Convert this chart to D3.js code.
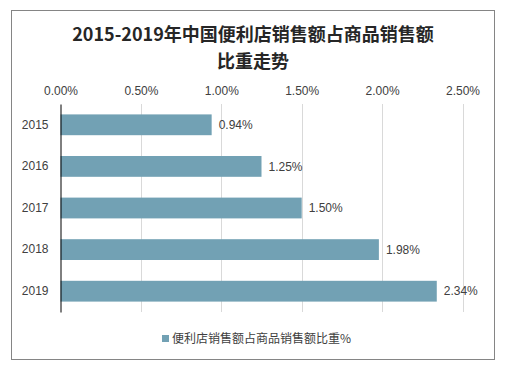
<!DOCTYPE html>
<html>
<head>
<meta charset="utf-8">
<script src="https://cdn.jsdelivr.net/npm/d3@7"></script>
<style>
  body { margin: 0; background: #fff; }
  svg { display: block; font-family: "Liberation Sans", Arial, sans-serif; }
</style>
</head>
<body>
<svg id="chart" width="509" height="374"></svg>
<script>
const years = ["2015", "2016", "2017", "2018", "2019"];
const shares = [0.94, 1.25, 1.50, 1.98, 2.34];
const xTicks = [0, 0.5, 1.0, 1.5, 2.0, 2.5];
const titleLines = ["2015-2019年中国便利店销售额占商品销售额", "比重走势"];
const legendLabel = "便利店销售额占商品销售额比重%";

const svg = d3.select("#chart");
const barColor = "#72a1b4";

// outer frame
svg.append("rect")
  .attr("x", 11.5).attr("y", 10.5)
  .attr("width", 483).attr("height", 349)
  .attr("fill", "#fff").attr("stroke", "#858585");

const panel = { left: 60.5, right: 462.5, top: 104, bottom: 312 };

const x = d3.scaleLinear([0, 2.5], [panel.left, panel.right]);
const y = d3.scaleBand(years, [panel.top, panel.bottom]).paddingInner(0.5).paddingOuter(0.25);

// title
svg.append("g")
  .selectAll("text")
  .data(titleLines)
  .join("text")
  .attr("x", 253)
  .attr("y", (d, i) => 41 + i * 27)
  .attr("text-anchor", "middle")
  .attr("font-family", "'Noto Sans CJK SC', sans-serif")
  .attr("font-weight", "bold")
  .attr("font-size", 18)
  .attr("fill", "#262626")
  .text(d => d);

// gridlines
svg.append("g")
  .selectAll("line")
  .data(xTicks.slice(1))
  .join("line")
  .attr("x1", d => Math.round(x(d)) + 0.5)
  .attr("x2", d => Math.round(x(d)) + 0.5)
  .attr("y1", panel.top)
  .attr("y2", panel.bottom)
  .attr("stroke", "#d9d9d9");

// top axis labels
const axis = d3.axisTop(x).tickValues(xTicks).tickFormat(d => d.toFixed(2) + "%").tickSize(0).tickPadding(0);
svg.append("g")
  .attr("transform", "translate(0, 95)")
  .call(axis)
  .call(g => g.select(".domain").remove())
  .selectAll("text")
  .attr("font-size", 12)
  .attr("fill", "#404040");

// bars
svg.append("g")
  .selectAll("rect")
  .data(years)
  .join("rect")
  .attr("x", x(0))
  .attr("y", d => y(d))
  .attr("width", (d, i) => x(shares[i]) - x(0))
  .attr("height", y.bandwidth())
  .attr("fill", barColor);

// value labels
svg.append("g")
  .selectAll("text")
  .data(years)
  .join("text")
  .attr("x", (d, i) => x(shares[i]) + 7)
  .attr("y", d => y(d) + y.bandwidth() / 2)
  .attr("dy", "0.35em")
  .attr("font-size", 12)
  .attr("fill", "#404040")
  .text((d, i) => shares[i].toFixed(2) + "%");

// category axis
svg.append("g")
  .attr("transform", `translate(${panel.left}, 0)`)
  .call(d3.axisLeft(y).tickSize(0).tickPadding(12))
  .call(g => g.select(".domain").attr("stroke", "#000"))
  .selectAll("text")
  .attr("font-size", 12)
  .attr("fill", "#404040");

// legend
const legend = svg.append("g").attr("transform", "translate(162, 339)");
legend.append("rect")
  .attr("x", 0).attr("y", -4)
  .attr("width", 7).attr("height", 7)
  .attr("fill", barColor);
legend.append("text")
  .attr("x", 10)
  .attr("y", 0)
  .attr("dy", "0.35em")
  .attr("font-family", "'Noto Sans CJK SC', sans-serif")
  .attr("font-size", 12)
  .attr("fill", "#404040")
  .text(legendLabel);
</script>
</body>
</html>
